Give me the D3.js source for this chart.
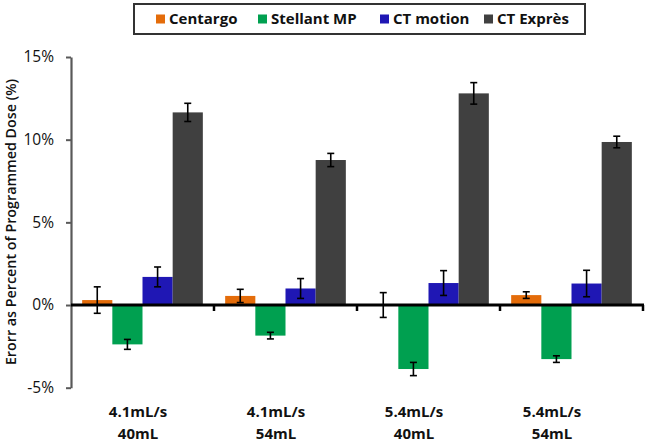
<!DOCTYPE html>
<html><head><meta charset="utf-8">
<script src="https://cdn.jsdelivr.net/npm/d3@7"></script>
<style>body{margin:0;background:#fff}svg{display:block}</style>
</head><body>
<svg id="c" width="646" height="441"></svg>
<script>
const categories = [["4.1mL/s","40mL"],["4.1mL/s","54mL"],["5.4mL/s","40mL"],["5.4mL/s","54mL"]];
const seriesNames = ["Centargo","Stellant MP","CT motion","CT Exprès"];
const seriesColors = ["#E46C0A","#00A050","#1F17B4","#404040"];
const centargo = [0.3, 0.55, 0.0, 0.6];
const centargoErr = [0.8, 0.4, 0.75, 0.2];
const stellant = [-2.38, -1.85, -3.87, -3.27];
const stellantErr = [0.3, 0.2, 0.4, 0.2];
const ctMotion = [1.7, 1.0, 1.33, 1.3];
const ctMotionErr = [0.6, 0.6, 0.75, 0.8];
const ctExpres = [11.65, 8.77, 12.8, 9.86];
const ctExpresErr = [0.55, 0.4, 0.65, 0.35];
const yTicks = [-5, 0, 5, 10, 15];

(function () {
const values = [centargo, stellant, ctMotion, ctExpres];
const errs = [centargoErr, stellantErr, ctMotionErr, ctExpresErr];

const svg = d3.select("#c");
const mLeft = 71, mRight = 643, mTop = 57, mBottom = 387.7;
const y = d3.scaleLinear().domain([-5, 15]).range([mBottom, mTop]);
const x0 = d3.scaleBand().domain(d3.range(categories.length)).range([mLeft, mRight]).paddingInner(0).paddingOuter(0);
const x1 = d3.scaleBand().domain(d3.range(seriesNames.length)).range([0, x0.bandwidth()]).paddingInner(0).paddingOuter(0.37);
// category labels sit slightly left of the band centres in the original
const xLab = d3.scaleBand().domain(d3.range(categories.length)).range([69, 621]);

const g = svg.append("g");
seriesNames.forEach((s, si) => {
  g.selectAll(null).data(values[si]).enter().append("rect")
    .attr("x", (d, i) => x0(i) + x1(si))
    .attr("width", x1.bandwidth())
    .attr("y", d => y(Math.max(0, d)))
    .attr("height", d => Math.abs(y(d) - y(0)))
    .attr("fill", seriesColors[si]);
});

// y axis
const yAxis = d3.axisLeft(y).tickValues(yTicks).tickFormat(d => d + "%").tickSizeInner(5).tickSizeOuter(0).tickPadding(12);
const ya = svg.append("g").attr("transform", `translate(${mLeft},0)`).call(yAxis);
ya.select(".domain").attr("stroke", "#595959").attr("stroke-width", 2.2);
ya.selectAll(".tick line").attr("stroke", "#595959").attr("stroke-width", 2);
ya.selectAll(".tick text").attr("font-family", "'Open Sans', sans-serif").attr("font-size", 15.5).attr("fill", "#111");

// x axis at zero
const xa = svg.append("g").attr("transform", `translate(0,${y(0)})`);
xa.append("line").attr("x1", mLeft).attr("x2", mRight + 1).attr("stroke", "#000").attr("stroke-width", 3);
const bounds = d3.range(1, categories.length + 1).map(i => i === categories.length ? mRight : x0(i));
xa.selectAll(null).data(bounds).enter().append("line")
  .attr("x1", d => d).attr("x2", d => d).attr("y1", 0).attr("y2", 6)
  .attr("stroke", "#000").attr("stroke-width", 2.5);

// error bars
seriesNames.forEach((s, si) => {
  values[si].forEach((v, i) => {
    const cx = x0(i) + x1(si) + x1.bandwidth() / 2;
    const e = errs[si][i];
    const eg = svg.append("g").attr("stroke", "#000").attr("stroke-width", 1.6);
    eg.append("line").attr("x1", cx).attr("x2", cx).attr("y1", y(v + e)).attr("y2", y(v - e));
    eg.append("line").attr("x1", cx - 3.5).attr("x2", cx + 3.5).attr("y1", y(v + e)).attr("y2", y(v + e));
    eg.append("line").attr("x1", cx - 3.5).attr("x2", cx + 3.5).attr("y1", y(v - e)).attr("y2", y(v - e));
  });
});

// category labels
categories.forEach((c, i) => {
  const cx = xLab(i) + xLab.bandwidth() / 2;
  const t = svg.append("text").attr("text-anchor", "middle")
    .attr("font-family", "'Open Sans', sans-serif").attr("font-weight", "bold").attr("font-size", 15).attr("fill", "#111");
  t.append("tspan").attr("x", cx).attr("y", 417).text(c[0]);
  t.append("tspan").attr("x", cx).attr("y", 438.5).text(c[1]);
});

// y title
svg.append("text").attr("transform", `translate(11,222) rotate(-90)`)
  .attr("text-anchor", "middle").attr("dy", "0.35em")
  .attr("font-family", "'Open Sans', sans-serif").attr("font-weight", "600").attr("font-size", 14.3).attr("fill", "#111")
  .text("Erorr as Percent of Programmed Dose (%)");

// legend
svg.append("rect").attr("x", 134).attr("y", 4).attr("width", 451).attr("height", 30)
  .attr("fill", "#fff").attr("stroke", "#333").attr("stroke-width", 2);
const legX = [156, 258, 380, 484];
seriesNames.forEach((s, i) => {
  svg.append("rect").attr("x", legX[i]).attr("y", 14.5).attr("width", 9).attr("height", 9).attr("fill", seriesColors[i]);
  svg.append("text").attr("x", legX[i] + 13).attr("y", 19).attr("dy", "0.35em")
    .attr("font-family", "'Open Sans', sans-serif").attr("font-weight", "bold").attr("font-size", 15).attr("fill", "#111").text(s);
});
})();
</script>
</body></html>
